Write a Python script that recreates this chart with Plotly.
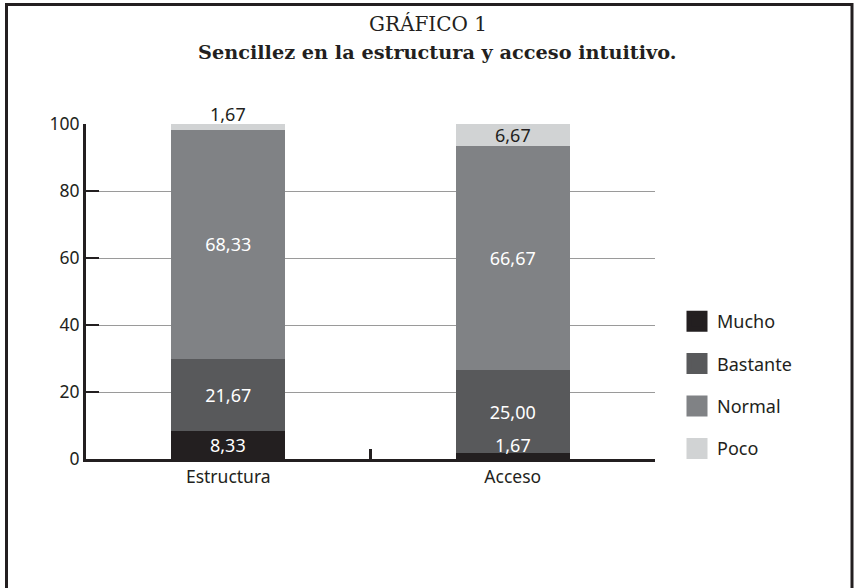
import plotly.graph_objects as go

categories = ["Estructura", "Acceso"]
series_names = ["Mucho", "Bastante", "Normal", "Poco"]
mucho = [8.33, 1.67]
bastante = [21.67, 25.00]
normal = [68.33, 66.67]
poco = [1.67, 6.67]
colors = ["#231f20", "#58595b", "#808285", "#d1d3d4"]
y_ticks = [0, 20, 40, 60, 80, 100]

W, H = 857, 588
# screen pixel targets of the plot area
SX0, SX1, SY0, SY1 = 86, 655, 124, 459
L, T = SX0, SY0
R = W - SX1
B = H - SY1
PW, PH = W - L - R, H - T - B

def fmt(v):
    return f"{v:.2f}".replace(".", ",")

def sx(px):
    return (px - L) / PW

def sy(py):
    return (H - B - py) / PH

SANS = "Noto Sans, Open Sans, sans-serif"
SERIF = "DejaVu Serif, serif"
LBL = 18

fig = go.Figure()
values = [mucho, bastante, normal, poco]
for name, vals, col in zip(series_names, values, colors):
    text = [fmt(v) if v >= 10 else "" for v in vals]
    fig.add_trace(go.Bar(
        x=categories, y=vals, name=name, marker=dict(color=col, line=dict(width=0)),
        text=text, textposition="inside", textangle=0,
        insidetextfont=dict(color="white", size=LBL, family=SANS),
        insidetextanchor="middle", width=0.4, cliponaxis=False,
        showlegend=False, hoverinfo="skip",
    ))

# small-segment labels as annotations
for ci, c in enumerate(categories):
    base = 0.0
    for si, vals in enumerate(values):
        v = vals[ci]
        if v < 10:
            if v >= 5:
                y, anchor, ys = base + v / 2, "middle", 0
            elif si == len(values) - 1:
                y, anchor, ys = base + v, "bottom", -4
            else:
                y, anchor, ys = base, "bottom", 0
            tcol = "#231f20" if (si == len(values) - 1) else "white"
            fig.add_annotation(x=c, y=y, yanchor=anchor, yshift=ys, text=fmt(v),
                               showarrow=False,
                               font=dict(color=tcol, size=LBL, family=SANS))
        base += v

# legend entries
for name, col in zip(series_names, colors):
    fig.add_trace(go.Scatter(
        x=[None], y=[None], mode="markers", name=name, legendgroup=name,
        marker=dict(symbol="square", size=16, color=col, line=dict(width=5, color=col)),
    ))

# titles
fig.add_annotation(xref="paper", yref="paper", x=sx(428), y=sy(24),
                   text="GRÁFICO 1", showarrow=False, yanchor="middle",
                   font=dict(family=SERIF, size=20, color="#231f20"))
fig.add_annotation(xref="paper", yref="paper", x=sx(437), y=sy(53),
                   text="<b>Sencillez en la estructura y acceso intuitivo.</b>", showarrow=False,
                   yanchor="middle", font=dict(family=SERIF, size=19.3, color="#231f20"))

# frame
fig.add_shape(type="rect", xref="paper", yref="paper",
              x0=sx(6.5), x1=sx(852), y0=sy(620), y1=sy(4.5),
              line=dict(color="#231f20", width=3), layer="above")

fig.update_layout(
    width=W, height=H, barmode="stack", separators=",.",
    margin=dict(l=L, r=R, t=T, b=B, autoexpand=False),
    paper_bgcolor="white", plot_bgcolor="white",
    font=dict(family=SANS, size=LBL, color="#231f20"),
    legend=dict(x=sx(677), y=sy(303), xanchor="left", yanchor="top",
                traceorder="grouped", tracegroupgap=16, font=dict(size=LBL, family=SANS),
                itemclick=False),
    xaxis=dict(type="category", showline=True, linecolor="#231f20", linewidth=3,
               ticks="inside", tickson="boundaries", ticklen=10, tickwidth=3,
               tickcolor="#231f20", showgrid=False, tickfont=dict(size=17.5, family=SANS)),
    yaxis=dict(range=[0, 100], tickvals=y_ticks, showline=True, linecolor="#231f20",
               linewidth=3, ticks="inside", ticklen=13, tickwidth=2, tickcolor="#231f20",
               showgrid=True, gridcolor="#9a9a9a", gridwidth=1, zeroline=False,
               tickfont=dict(size=17.5, family=SANS)),
)

fig.write_html("out.html", config={"displayModeBar": False},
               post_script="document.body.style.margin='0';")
